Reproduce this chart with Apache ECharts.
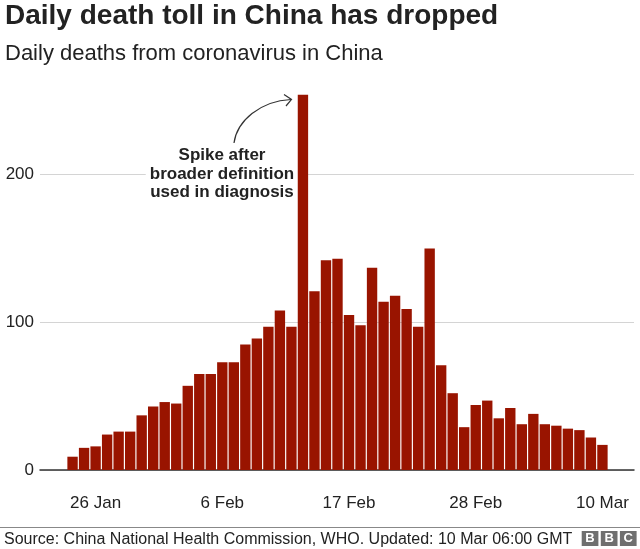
<!DOCTYPE html>
<html><head><meta charset="utf-8">
<script src="https://cdn.jsdelivr.net/npm/echarts@6/dist/echarts.min.js"></script>
<style>html,body{margin:0;padding:0;background:#fff}#c{width:640px;height:549px}</style>
</head><body><div id="c"></div>
<script>
// Categories: reported dates
const dates = [
  '24 Jan','25 Jan','26 Jan','27 Jan','28 Jan','29 Jan','30 Jan','31 Jan',
  '1 Feb','2 Feb','3 Feb','4 Feb','5 Feb','6 Feb','7 Feb','8 Feb','9 Feb','10 Feb',
  '11 Feb','12 Feb','13 Feb','14 Feb','15 Feb','16 Feb','17 Feb','18 Feb','19 Feb','20 Feb',
  '21 Feb','22 Feb','23 Feb','24 Feb','25 Feb','26 Feb','27 Feb','28 Feb','29 Feb',
  '1 Mar','2 Mar','3 Mar','4 Mar','5 Mar','6 Mar','7 Mar','8 Mar','9 Mar','10 Mar'
];
// Daily deaths
const deaths = [
  9, 15, 16, 24, 26, 26, 37, 43,
  46, 45, 57, 65, 65, 73, 73, 85, 89, 97,
  108, 97, 254, 121, 142, 143, 105, 98, 137, 114,
  118, 109, 97, 150, 71, 52, 29, 44, 47,
  35, 42, 31, 38, 31, 30, 28, 27, 22, 17
];
// Tick labels shown on the axes
const tickLabels = ['26 Jan', '6 Feb', '17 Feb', '28 Feb', '10 Mar'];
const yTickValues = [0, 100, 200];

const FONT = '"Liberation Sans", Arial, Helvetica, sans-serif';
const chart = echarts.init(document.getElementById('c'), null, {renderer: 'canvas'});
const option = {
  animation: false,
  backgroundColor: '#fff',
  title: [
    {text: 'Daily death toll in China has dropped', left: 5, top: 2.5, padding: 0,
     textStyle: {fontFamily: FONT, fontSize: 28, fontWeight: 'bold', color: '#222'}},
    {text: 'Daily deaths from coronavirus in China', left: 5, top: 43, padding: 0,
     textStyle: {fontFamily: FONT, fontSize: 22, fontWeight: 'normal', color: '#222'}},
    {text: 'Source: China National Health Commission, WHO. Updated: 10 Mar 06:00 GMT', left: 4, top: 532, padding: 0,
     textStyle: {fontFamily: FONT, fontSize: 16, fontWeight: 'normal', color: '#222'}}
  ],
  grid: [
    {left: 40, right: 6, top: 86, bottom: 79},
    {left: 66.8, right: 31.8, top: 86, bottom: 79}
  ],
  xAxis: [
    {gridIndex: 0, type: 'value', min: 0, max: 1,
     axisLine: {show: true, onZero: false, lineStyle: {color: '#333', width: 1.5}},
     axisTick: {show: false}, axisLabel: {show: false}, splitLine: {show: false}},
    {gridIndex: 1, type: 'category', data: dates,
     axisLine: {show: false}, axisTick: {show: false},
     axisLabel: {interval: (i, v) => tickLabels.includes(v), margin: 25, fontSize: 17,
                 color: '#222', fontFamily: FONT}}
  ],
  yAxis: [
    {gridIndex: 0, type: 'value', min: 0, max: 260, interval: 100,
     axisLine: {show: false}, axisTick: {show: false},
     axisLabel: {margin: 6, fontSize: 17, color: '#222', fontFamily: FONT, showMaxLabel: false,
                 formatter: v => yTickValues.includes(v) ? String(v) : ''},
     splitLine: {show: true, showMaxLine: false, lineStyle: {color: '#d4d4d4', width: 1}}},
    {gridIndex: 1, type: 'value', min: 0, max: 260, show: false, splitLine: {show: false}}
  ],
  series: [{
    type: 'bar', xAxisIndex: 1, yAxisIndex: 1, data: deaths,
    barCategoryGap: '10%', itemStyle: {color: '#991400'}
  }],
  graphic: [
    {type: 'line', shape: {x1: 0, y1: 527.5, x2: 640, y2: 527.5}, style: {stroke: '#888', lineWidth: 1}},
    {type: 'text', x: 222, y: 146.5, z: 1, style: {text: 'Spike after\nbroader definition\nused in diagnosis',
      font: 'bold 17px ' + FONT, fill: '#222', align: 'center', verticalAlign: 'top', lineHeight: 18.5,
      backgroundColor: '#fff', padding: [0, 4, 0, 4]}},
    {type: 'bezierCurve', shape: {x1: 234, y1: 143, cpx1: 237, cpy1: 121, cpx2: 260, cpy2: 101, x2: 291, y2: 99.5},
     style: {stroke: '#333', lineWidth: 1.2, fill: null}},
    {type: 'polyline', shape: {points: [[284, 94.5], [291.5, 99.5], [286, 106]]},
     style: {stroke: '#333', lineWidth: 1.2, fill: null}},
    {type: 'rect', shape: {x: 581.7, y: 531, width: 16.7, height: 15}, style: {fill: '#6f6f6f'}},
    {type: 'rect', shape: {x: 600.8, y: 531, width: 16.7, height: 15}, style: {fill: '#6f6f6f'}},
    {type: 'rect', shape: {x: 619.9, y: 531, width: 16.7, height: 15}, style: {fill: '#6f6f6f'}},
    {type: 'text', x: 590, y: 538.8, style: {text: 'B', font: 'bold 13px ' + FONT, fill: '#fff', align: 'center', verticalAlign: 'middle'}},
    {type: 'text', x: 609.1, y: 538.8, style: {text: 'B', font: 'bold 13px ' + FONT, fill: '#fff', align: 'center', verticalAlign: 'middle'}},
    {type: 'text', x: 628.2, y: 538.8, style: {text: 'C', font: 'bold 13px ' + FONT, fill: '#fff', align: 'center', verticalAlign: 'middle'}}
  ]
};
chart.setOption(option);
</script>
</body></html>
